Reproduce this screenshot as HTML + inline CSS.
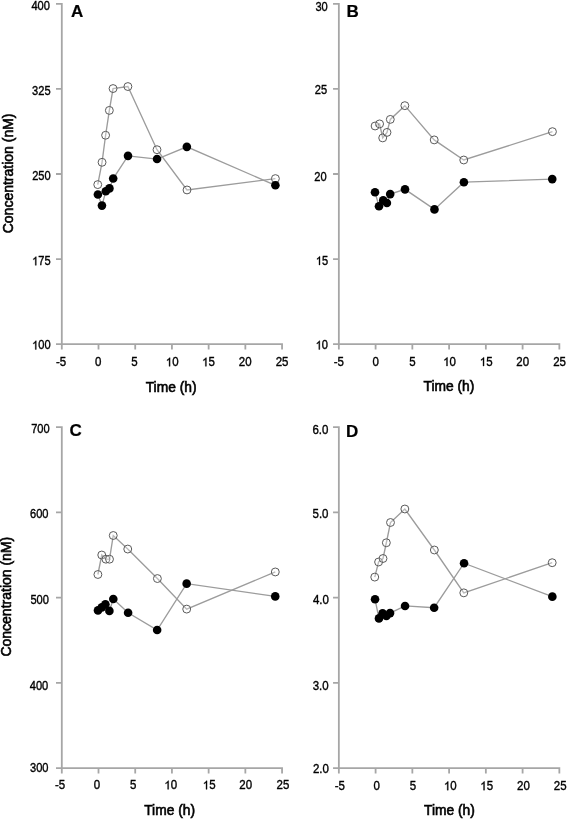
<!DOCTYPE html>
<html><head><meta charset="utf-8"><style>
html,body{margin:0;padding:0;background:#fff;width:567px;height:819px;overflow:hidden}
svg{display:block;filter:grayscale(1)}
.t{font-family:"Liberation Sans", sans-serif;font-size:11.5px;fill:#000;stroke:#000;stroke-width:0.35px}
.h{fill:none;stroke:none}
.one{fill:#000;stroke:#000;stroke-width:0.35px;vector-effect:non-scaling-stroke}
.L{font-family:"Liberation Sans", sans-serif;font-size:17px;font-weight:bold;fill:#000;stroke:#000;stroke-width:0.2px}
.ax{font-family:"Liberation Sans", sans-serif;font-size:13.8px;fill:#000;stroke:#000;stroke-width:0.6px}
.ay{font-family:"Liberation Sans", sans-serif;font-size:14px;fill:#000;stroke:#000;stroke-width:0.6px}
</style></head><body>
<svg width="567" height="819" viewBox="0 0 567 819">
<rect width="567" height="819" fill="#fff"/>
<path d="M61.8 2.88V349.5 M56 344.2H282.96 M56 3.78H61.8 M56 88.89H61.8 M56 173.99H61.8 M56 259.09H61.8 M56 344.2H61.8 M61.8 344.2V349.5 M98.51 344.2V349.5 M135.22 344.2V349.5 M171.93 344.2V349.5 M208.64 344.2V349.5 M245.35 344.2V349.5 M282.06 344.2V349.5" stroke="#a6a6a6" stroke-width="1.8" fill="none"/>
<g transform="translate(49.9,9.8) scale(0.965,1.09)"><text text-anchor="end" class="t">400</text></g>
<g transform="translate(50.6,95.35) scale(0.965,1.09)"><text text-anchor="end" class="t">325</text></g>
<g transform="translate(50.65,180.15) scale(0.965,1.09)"><text text-anchor="end" class="t">250</text></g>
<g transform="translate(50.65,265.3) scale(0.965,1.09)"><text text-anchor="end" class="t"><tspan class="h">1</tspan>75</text><path class="one" transform="translate(-19.19,0) scale(0.005615,-0.005615)" d="M763 0H583V1098Q518 1039 412 979Q307 920 223 890V1057Q374 1125 487 1221Q600 1318 647 1409H763Z"/></g>
<g transform="translate(50.65,349.45) scale(0.965,1.09)"><text text-anchor="end" class="t"><tspan class="h">1</tspan>00</text><path class="one" transform="translate(-19.19,0) scale(0.005615,-0.005615)" d="M763 0H583V1098Q518 1039 412 979Q307 920 223 890V1057Q374 1125 487 1221Q600 1318 647 1409H763Z"/></g>
<g transform="translate(61.15,366.3) scale(1.0,1.09)"><text text-anchor="middle" class="t">-5</text></g>
<g transform="translate(98.2,366.3) scale(1.0,1.09)"><text text-anchor="middle" class="t">0</text></g>
<g transform="translate(134.55,366.3) scale(1.0,1.09)"><text text-anchor="middle" class="t">5</text></g>
<g transform="translate(172.21,366.3) scale(1.0,1.09)"><text text-anchor="middle" class="t"><tspan class="h">1</tspan>0</text><path class="one" transform="translate(-6.4,0) scale(0.005615,-0.005615)" d="M763 0H583V1098Q518 1039 412 979Q307 920 223 890V1057Q374 1125 487 1221Q600 1318 647 1409H763Z"/></g>
<g transform="translate(208.51,366.3) scale(1.0,1.09)"><text text-anchor="middle" class="t"><tspan class="h">1</tspan>5</text><path class="one" transform="translate(-6.4,0) scale(0.005615,-0.005615)" d="M763 0H583V1098Q518 1039 412 979Q307 920 223 890V1057Q374 1125 487 1221Q600 1318 647 1409H763Z"/></g>
<g transform="translate(245.25,366.3) scale(1.0,1.09)"><text text-anchor="middle" class="t">20</text></g>
<g transform="translate(282.1,366.3) scale(1.0,1.09)"><text text-anchor="middle" class="t">25</text></g>
<polyline points="97.75,184.6 102.05,162.3 105.6,135.25 109.35,110.4 113.05,88.55 127.9,86.55 157,149.7 187,189.95 275.4,178.6" stroke="#9c9c9c" stroke-width="1.35" fill="none"/>
<polyline points="97.9,194.55 101.95,205.6 105.8,191.3 109.45,188.4 113.2,178.55 128,155.85 157.05,159.05 186.85,146.85 275.4,185.3" stroke="#9c9c9c" stroke-width="1.35" fill="none"/>
<circle cx="97.75" cy="184.6" r="3.95" fill="#fff" fill-opacity="0.3" stroke="#5a5a5a" stroke-width="1.0"/>
<circle cx="102.05" cy="162.3" r="3.95" fill="#fff" fill-opacity="0.3" stroke="#5a5a5a" stroke-width="1.0"/>
<circle cx="105.6" cy="135.25" r="3.95" fill="#fff" fill-opacity="0.3" stroke="#5a5a5a" stroke-width="1.0"/>
<circle cx="109.35" cy="110.4" r="3.95" fill="#fff" fill-opacity="0.3" stroke="#5a5a5a" stroke-width="1.0"/>
<circle cx="113.05" cy="88.55" r="3.95" fill="#fff" fill-opacity="0.3" stroke="#5a5a5a" stroke-width="1.0"/>
<circle cx="127.9" cy="86.55" r="3.95" fill="#fff" fill-opacity="0.3" stroke="#5a5a5a" stroke-width="1.0"/>
<circle cx="157" cy="149.7" r="3.95" fill="#fff" fill-opacity="0.3" stroke="#5a5a5a" stroke-width="1.0"/>
<circle cx="187" cy="189.95" r="3.95" fill="#fff" fill-opacity="0.3" stroke="#5a5a5a" stroke-width="1.0"/>
<circle cx="275.4" cy="178.6" r="3.95" fill="#fff" fill-opacity="0.3" stroke="#5a5a5a" stroke-width="1.0"/>
<circle cx="97.9" cy="194.55" r="4.3" fill="#000"/>
<circle cx="101.95" cy="205.6" r="4.3" fill="#000"/>
<circle cx="105.8" cy="191.3" r="4.3" fill="#000"/>
<circle cx="109.45" cy="188.4" r="4.3" fill="#000"/>
<circle cx="113.2" cy="178.55" r="4.3" fill="#000"/>
<circle cx="128" cy="155.85" r="4.3" fill="#000"/>
<circle cx="157.05" cy="159.05" r="4.3" fill="#000"/>
<circle cx="186.85" cy="146.85" r="4.3" fill="#000"/>
<circle cx="275.4" cy="185.3" r="4.3" fill="#000"/>
<text x="71" y="16.6" class="L">A</text>
<text x="171.1" y="391.8" text-anchor="middle" class="ax">Time (h)</text>
<path d="M338.85 2.88V349.5 M333.05 344.2H560.25 M333.05 3.78H338.85 M333.05 88.89H338.85 M333.05 173.99H338.85 M333.05 259.09H338.85 M333.05 344.2H338.85 M338.85 344.2V349.5 M375.6 344.2V349.5 M412.35 344.2V349.5 M449.1 344.2V349.5 M485.85 344.2V349.5 M522.6 344.2V349.5 M559.35 344.2V349.5" stroke="#a6a6a6" stroke-width="1.8" fill="none"/>
<g transform="translate(327.8,10.75) scale(0.965,1.09)"><text text-anchor="end" class="t">30</text></g>
<g transform="translate(327.2,94.3) scale(0.965,1.09)"><text text-anchor="end" class="t">25</text></g>
<g transform="translate(326.7,181.1) scale(0.965,1.09)"><text text-anchor="end" class="t">20</text></g>
<g transform="translate(328.2,265) scale(0.965,1.09)"><text text-anchor="end" class="t"><tspan class="h">1</tspan>5</text><path class="one" transform="translate(-12.79,0) scale(0.005615,-0.005615)" d="M763 0H583V1098Q518 1039 412 979Q307 920 223 890V1057Q374 1125 487 1221Q600 1318 647 1409H763Z"/></g>
<g transform="translate(328,349.45) scale(0.965,1.09)"><text text-anchor="end" class="t"><tspan class="h">1</tspan>0</text><path class="one" transform="translate(-12.79,0) scale(0.005615,-0.005615)" d="M763 0H583V1098Q518 1039 412 979Q307 920 223 890V1057Q374 1125 487 1221Q600 1318 647 1409H763Z"/></g>
<g transform="translate(338.75,366) scale(1.0,1.09)"><text text-anchor="middle" class="t">-5</text></g>
<g transform="translate(375.6,366) scale(1.0,1.09)"><text text-anchor="middle" class="t">0</text></g>
<g transform="translate(412.35,366) scale(1.0,1.09)"><text text-anchor="middle" class="t">5</text></g>
<g transform="translate(449.61,366) scale(1.0,1.09)"><text text-anchor="middle" class="t"><tspan class="h">1</tspan>0</text><path class="one" transform="translate(-6.4,0) scale(0.005615,-0.005615)" d="M763 0H583V1098Q518 1039 412 979Q307 920 223 890V1057Q374 1125 487 1221Q600 1318 647 1409H763Z"/></g>
<g transform="translate(486.16,366) scale(1.0,1.09)"><text text-anchor="middle" class="t"><tspan class="h">1</tspan>5</text><path class="one" transform="translate(-6.4,0) scale(0.005615,-0.005615)" d="M763 0H583V1098Q518 1039 412 979Q307 920 223 890V1057Q374 1125 487 1221Q600 1318 647 1409H763Z"/></g>
<g transform="translate(522.75,366) scale(1.0,1.09)"><text text-anchor="middle" class="t">20</text></g>
<g transform="translate(559.6,366) scale(1.0,1.09)"><text text-anchor="middle" class="t">25</text></g>
<polyline points="375.1,126 379.6,123.9 382.7,137.9 387,132.4 390.3,119.4 404.85,105.65 434.2,139.9 463.75,160 552.45,131.65" stroke="#9c9c9c" stroke-width="1.35" fill="none"/>
<polyline points="375,192.2 379,206.3 383.2,200.4 386.9,203 390.2,194.1 405,189.35 434.45,209.4 463.9,182.2 552.25,179.1" stroke="#9c9c9c" stroke-width="1.35" fill="none"/>
<circle cx="375.1" cy="126" r="3.95" fill="#fff" fill-opacity="0.3" stroke="#5a5a5a" stroke-width="1.0"/>
<circle cx="379.6" cy="123.9" r="3.95" fill="#fff" fill-opacity="0.3" stroke="#5a5a5a" stroke-width="1.0"/>
<circle cx="382.7" cy="137.9" r="3.95" fill="#fff" fill-opacity="0.3" stroke="#5a5a5a" stroke-width="1.0"/>
<circle cx="387" cy="132.4" r="3.95" fill="#fff" fill-opacity="0.3" stroke="#5a5a5a" stroke-width="1.0"/>
<circle cx="390.3" cy="119.4" r="3.95" fill="#fff" fill-opacity="0.3" stroke="#5a5a5a" stroke-width="1.0"/>
<circle cx="404.85" cy="105.65" r="3.95" fill="#fff" fill-opacity="0.3" stroke="#5a5a5a" stroke-width="1.0"/>
<circle cx="434.2" cy="139.9" r="3.95" fill="#fff" fill-opacity="0.3" stroke="#5a5a5a" stroke-width="1.0"/>
<circle cx="463.75" cy="160" r="3.95" fill="#fff" fill-opacity="0.3" stroke="#5a5a5a" stroke-width="1.0"/>
<circle cx="552.45" cy="131.65" r="3.95" fill="#fff" fill-opacity="0.3" stroke="#5a5a5a" stroke-width="1.0"/>
<circle cx="375" cy="192.2" r="4.3" fill="#000"/>
<circle cx="379" cy="206.3" r="4.3" fill="#000"/>
<circle cx="383.2" cy="200.4" r="4.3" fill="#000"/>
<circle cx="386.9" cy="203" r="4.3" fill="#000"/>
<circle cx="390.2" cy="194.1" r="4.3" fill="#000"/>
<circle cx="405" cy="189.35" r="4.3" fill="#000"/>
<circle cx="434.45" cy="209.4" r="4.3" fill="#000"/>
<circle cx="463.9" cy="182.2" r="4.3" fill="#000"/>
<circle cx="552.25" cy="179.1" r="4.3" fill="#000"/>
<text x="346.6" y="16.6" class="L">B</text>
<text x="448.9" y="391.2" text-anchor="middle" class="ax">Time (h)</text>
<path d="M61.8 426.15V773.5 M56 768.2H282.96 M56 427.05H61.8 M56 512.34H61.8 M56 597.62H61.8 M56 682.91H61.8 M56 768.2H61.8 M61.8 768.2V773.5 M98.51 768.2V773.5 M135.22 768.2V773.5 M171.93 768.2V773.5 M208.64 768.2V773.5 M245.35 768.2V773.5 M282.06 768.2V773.5" stroke="#a6a6a6" stroke-width="1.8" fill="none"/>
<g transform="translate(49.7,433.45) scale(0.965,1.09)"><text text-anchor="end" class="t">700</text></g>
<g transform="translate(48.5,517.65) scale(0.965,1.09)"><text text-anchor="end" class="t">600</text></g>
<g transform="translate(48.9,603.5) scale(0.965,1.09)"><text text-anchor="end" class="t">500</text></g>
<g transform="translate(48.3,689.85) scale(0.965,1.09)"><text text-anchor="end" class="t">400</text></g>
<g transform="translate(48.5,772.15) scale(0.965,1.09)"><text text-anchor="end" class="t">300</text></g>
<g transform="translate(60.1,789.35) scale(1.0,1.09)"><text text-anchor="middle" class="t">-5</text></g>
<g transform="translate(97,789.35) scale(1.0,1.09)"><text text-anchor="middle" class="t">0</text></g>
<g transform="translate(133.25,789.35) scale(1.0,1.09)"><text text-anchor="middle" class="t">5</text></g>
<g transform="translate(170.76,789.35) scale(1.0,1.09)"><text text-anchor="middle" class="t"><tspan class="h">1</tspan>0</text><path class="one" transform="translate(-6.4,0) scale(0.005615,-0.005615)" d="M763 0H583V1098Q518 1039 412 979Q307 920 223 890V1057Q374 1125 487 1221Q600 1318 647 1409H763Z"/></g>
<g transform="translate(209.16,789.35) scale(1.0,1.09)"><text text-anchor="middle" class="t"><tspan class="h">1</tspan>5</text><path class="one" transform="translate(-6.4,0) scale(0.005615,-0.005615)" d="M763 0H583V1098Q518 1039 412 979Q307 920 223 890V1057Q374 1125 487 1221Q600 1318 647 1409H763Z"/></g>
<g transform="translate(245.75,789.35) scale(1.0,1.09)"><text text-anchor="middle" class="t">20</text></g>
<g transform="translate(282.95,789.35) scale(1.0,1.09)"><text text-anchor="middle" class="t">25</text></g>
<polyline points="97.9,574.5 101.75,555 105.9,559.2 109.5,559.2 113.25,535.5 127.75,549.05 157.4,578.55 186.7,609.1 275.3,571.95" stroke="#9c9c9c" stroke-width="1.35" fill="none"/>
<polyline points="98,610.4 101.8,607.4 105.4,604.3 109.4,610.9 113.3,599 128.1,612.8 157.15,630.05 186.65,583.65 275.25,596.4" stroke="#9c9c9c" stroke-width="1.35" fill="none"/>
<circle cx="97.9" cy="574.5" r="3.95" fill="#fff" fill-opacity="0.3" stroke="#5a5a5a" stroke-width="1.0"/>
<circle cx="101.75" cy="555" r="3.95" fill="#fff" fill-opacity="0.3" stroke="#5a5a5a" stroke-width="1.0"/>
<circle cx="105.9" cy="559.2" r="3.95" fill="#fff" fill-opacity="0.3" stroke="#5a5a5a" stroke-width="1.0"/>
<circle cx="109.5" cy="559.2" r="3.95" fill="#fff" fill-opacity="0.3" stroke="#5a5a5a" stroke-width="1.0"/>
<circle cx="113.25" cy="535.5" r="3.95" fill="#fff" fill-opacity="0.3" stroke="#5a5a5a" stroke-width="1.0"/>
<circle cx="127.75" cy="549.05" r="3.95" fill="#fff" fill-opacity="0.3" stroke="#5a5a5a" stroke-width="1.0"/>
<circle cx="157.4" cy="578.55" r="3.95" fill="#fff" fill-opacity="0.3" stroke="#5a5a5a" stroke-width="1.0"/>
<circle cx="186.7" cy="609.1" r="3.95" fill="#fff" fill-opacity="0.3" stroke="#5a5a5a" stroke-width="1.0"/>
<circle cx="275.3" cy="571.95" r="3.95" fill="#fff" fill-opacity="0.3" stroke="#5a5a5a" stroke-width="1.0"/>
<circle cx="98" cy="610.4" r="4.3" fill="#000"/>
<circle cx="101.8" cy="607.4" r="4.3" fill="#000"/>
<circle cx="105.4" cy="604.3" r="4.3" fill="#000"/>
<circle cx="109.4" cy="610.9" r="4.3" fill="#000"/>
<circle cx="113.3" cy="599" r="4.3" fill="#000"/>
<circle cx="128.1" cy="612.8" r="4.3" fill="#000"/>
<circle cx="157.15" cy="630.05" r="4.3" fill="#000"/>
<circle cx="186.65" cy="583.65" r="4.3" fill="#000"/>
<circle cx="275.25" cy="596.4" r="4.3" fill="#000"/>
<text x="69.4" y="436.3" class="L">C</text>
<text x="169.6" y="814.8" text-anchor="middle" class="ax">Time (h)</text>
<path d="M338.85 426.15V773.5 M333.05 768.2H560.25 M333.05 427.05H338.85 M333.05 512.34H338.85 M333.05 597.62H338.85 M333.05 682.91H338.85 M333.05 768.2H338.85 M338.85 768.2V773.5 M375.6 768.2V773.5 M412.35 768.2V773.5 M449.1 768.2V773.5 M485.85 768.2V773.5 M522.6 768.2V773.5 M559.35 768.2V773.5" stroke="#a6a6a6" stroke-width="1.8" fill="none"/>
<g transform="translate(328.4,433.75) scale(1.0,1.09)"><text text-anchor="end" class="t">6.0</text></g>
<g transform="translate(328.5,518.35) scale(1.0,1.09)"><text text-anchor="end" class="t">5.0</text></g>
<g transform="translate(328.9,604.1) scale(1.0,1.09)"><text text-anchor="end" class="t">4.0</text></g>
<g transform="translate(328.7,689.55) scale(1.0,1.09)"><text text-anchor="end" class="t">3.0</text></g>
<g transform="translate(328.9,773.45) scale(1.0,1.09)"><text text-anchor="end" class="t">2.0</text></g>
<g transform="translate(339.75,790.15) scale(1.0,1.09)"><text text-anchor="middle" class="t">-5</text></g>
<g transform="translate(376.65,790.15) scale(1.0,1.09)"><text text-anchor="middle" class="t">0</text></g>
<g transform="translate(413,790.15) scale(1.0,1.09)"><text text-anchor="middle" class="t">5</text></g>
<g transform="translate(450.36,790.15) scale(1.0,1.09)"><text text-anchor="middle" class="t"><tspan class="h">1</tspan>0</text><path class="one" transform="translate(-6.4,0) scale(0.005615,-0.005615)" d="M763 0H583V1098Q518 1039 412 979Q307 920 223 890V1057Q374 1125 487 1221Q600 1318 647 1409H763Z"/></g>
<g transform="translate(486.66,790.15) scale(1.0,1.09)"><text text-anchor="middle" class="t"><tspan class="h">1</tspan>5</text><path class="one" transform="translate(-6.4,0) scale(0.005615,-0.005615)" d="M763 0H583V1098Q518 1039 412 979Q307 920 223 890V1057Q374 1125 487 1221Q600 1318 647 1409H763Z"/></g>
<g transform="translate(523.45,790.15) scale(1.0,1.09)"><text text-anchor="middle" class="t">20</text></g>
<g transform="translate(560.25,790.15) scale(1.0,1.09)"><text text-anchor="middle" class="t">25</text></g>
<polyline points="374.75,577.1 378.6,562 383,558.5 386.35,542.75 390.5,522.5 404.85,509 434.35,550 463.8,592.85 552.2,562.7" stroke="#9c9c9c" stroke-width="1.35" fill="none"/>
<polyline points="375.05,599.3 378.95,618.4 382.6,613.3 386.4,616 390.05,613.1 405.05,605.95 434.15,607.7 464.05,563.2 552.35,596.65" stroke="#9c9c9c" stroke-width="1.35" fill="none"/>
<circle cx="374.75" cy="577.1" r="3.95" fill="#fff" fill-opacity="0.3" stroke="#5a5a5a" stroke-width="1.0"/>
<circle cx="378.6" cy="562" r="3.95" fill="#fff" fill-opacity="0.3" stroke="#5a5a5a" stroke-width="1.0"/>
<circle cx="383" cy="558.5" r="3.95" fill="#fff" fill-opacity="0.3" stroke="#5a5a5a" stroke-width="1.0"/>
<circle cx="386.35" cy="542.75" r="3.95" fill="#fff" fill-opacity="0.3" stroke="#5a5a5a" stroke-width="1.0"/>
<circle cx="390.5" cy="522.5" r="3.95" fill="#fff" fill-opacity="0.3" stroke="#5a5a5a" stroke-width="1.0"/>
<circle cx="404.85" cy="509" r="3.95" fill="#fff" fill-opacity="0.3" stroke="#5a5a5a" stroke-width="1.0"/>
<circle cx="434.35" cy="550" r="3.95" fill="#fff" fill-opacity="0.3" stroke="#5a5a5a" stroke-width="1.0"/>
<circle cx="463.8" cy="592.85" r="3.95" fill="#fff" fill-opacity="0.3" stroke="#5a5a5a" stroke-width="1.0"/>
<circle cx="552.2" cy="562.7" r="3.95" fill="#fff" fill-opacity="0.3" stroke="#5a5a5a" stroke-width="1.0"/>
<circle cx="375.05" cy="599.3" r="4.3" fill="#000"/>
<circle cx="378.95" cy="618.4" r="4.3" fill="#000"/>
<circle cx="382.6" cy="613.3" r="4.3" fill="#000"/>
<circle cx="386.4" cy="616" r="4.3" fill="#000"/>
<circle cx="390.05" cy="613.1" r="4.3" fill="#000"/>
<circle cx="405.05" cy="605.95" r="4.3" fill="#000"/>
<circle cx="434.15" cy="607.7" r="4.3" fill="#000"/>
<circle cx="464.05" cy="563.2" r="4.3" fill="#000"/>
<circle cx="552.35" cy="596.65" r="4.3" fill="#000"/>
<text x="345.9" y="436.7" class="L">D</text>
<text x="449.45" y="814.6" text-anchor="middle" class="ax">Time (h)</text>
<text transform="translate(12.9,173.4) rotate(-90)" text-anchor="middle" class="ay">Concentration (nM)</text>
<text transform="translate(11.3,596.7) rotate(-90)" text-anchor="middle" class="ay">Concentration (nM)</text>
</svg>
</body></html>
